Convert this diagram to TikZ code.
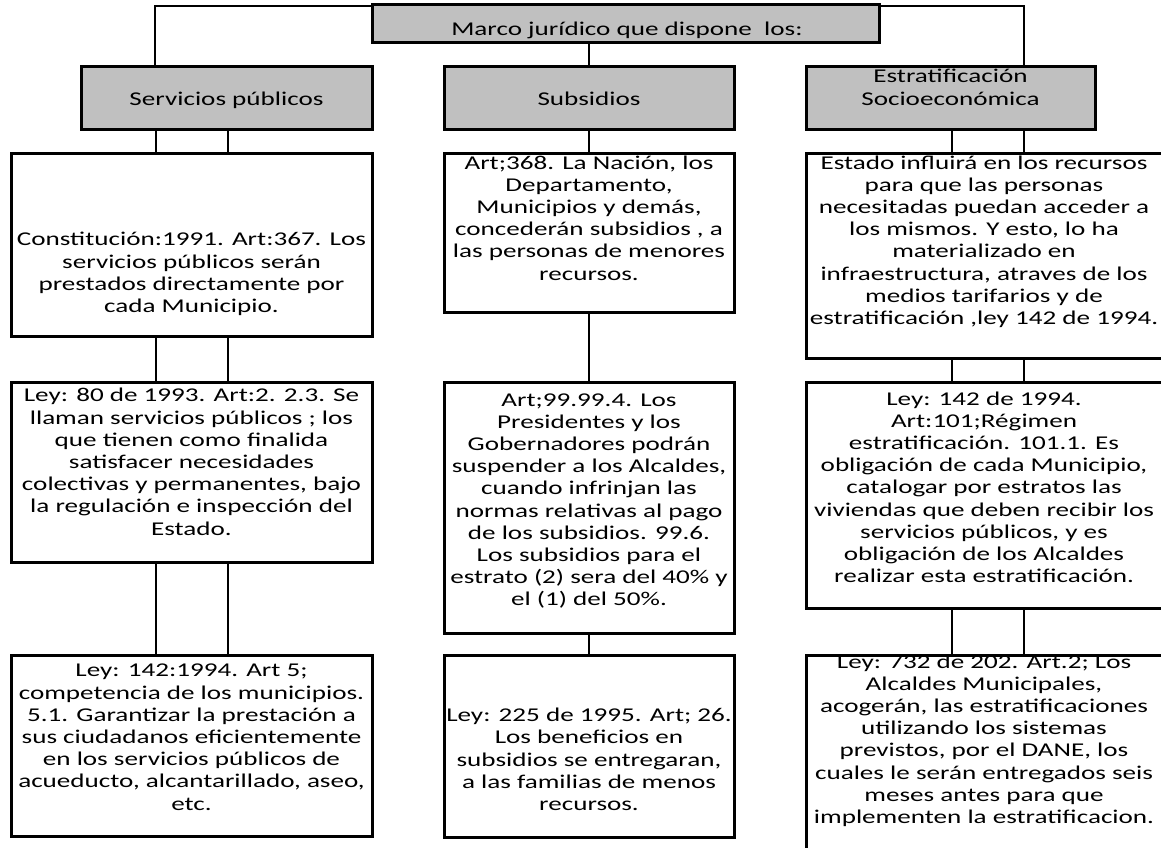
\documentclass[tikz,border=0pt]{standalone}
\usepackage{fontspec}
\newfontfamily\cuerpo{Carlito}[FakeStretch=1.39]
\definecolor{gris}{HTML}{C0C0C0}

\begin{document}
\begin{tikzpicture}[x=1pt,y=-1pt,
                caja/.style={draw,line width=3pt,inner sep=0pt},
                cabecera/.style={caja,fill=gris},
                enlace/.style={line width=2pt},
                texto/.style={font=\cuerpo\fontsize{19.5}{22.2}\selectfont,align=center,inner sep=0pt,anchor=base}]
                \useasboundingbox (0,0) rectangle (1161,847);
                \clip (0,0) rectangle (1161,847);
                % cabeceras
                \node[cabecera,minimum width=291pt,minimum height=63pt] (sp) at (226.5,97.5) {};
                \node[cabecera,minimum width=290pt,minimum height=63pt] (sb) at (589,97.5) {};
                \node[cabecera,minimum width=289pt,minimum height=63pt] (ep) at (950.5,97.5) {};
                % cajas de texto
                \node[caja,minimum width=361pt,minimum height=183pt] (l1) at (191.5,244.5) {};
                \node[caja,minimum width=361pt,minimum height=180pt] (l2) at (191.5,472) {};
                \node[caja,minimum width=361pt,minimum height=181pt] (l3) at (191.5,745.5) {};
                \node[caja,minimum width=290pt,minimum height=159pt] (m1) at (589,232.5) {};
                \node[caja,minimum width=290pt,minimum height=251pt] (m2) at (589,507.5) {};
                \node[caja,minimum width=290pt,minimum height=182pt] (m3) at (589,746) {};
                \node[caja,minimum width=364pt,minimum height=205pt] (r1) at (988,255.5) {};
                \node[caja,minimum width=364pt,minimum height=226pt] (r2) at (988,495) {};
                \node[caja,minimum width=364pt,minimum height=225pt] (r3) at (988,767.5) {};
                % marco superior
                \draw[enlace] ([xshift=-71.5pt]sp.north) |- (625.5,6) -| ([xshift=73.5pt]ep.north);
                \node[cabecera,minimum width=507pt,minimum height=38pt] (top) at (625.5,23) {};
                \draw[enlace] (top.south -| sb.north) -- (sb.north);
                % enlaces
                \foreach \d in {-36,36} {
                    \draw[enlace] ([xshift=\d pt]l1.north) -- ([xshift=\d pt]l1.north |- sp.south);
                    \draw[enlace] ([xshift=\d pt]l2.north) -- ([xshift=\d pt]l2.north |- l1.south);
                    \draw[enlace] ([xshift=\d pt]l3.north) -- ([xshift=\d pt]l3.north |- l2.south);
                    \draw[enlace] ([xshift=\d pt]r1.north) -- ([xshift=\d pt]r1.north |- ep.south);
                    \draw[enlace] ([xshift=\d pt]r2.north) -- ([xshift=\d pt]r2.north |- r1.south);
                    \draw[enlace] ([xshift=\d pt]r3.north) -- ([xshift=\d pt]r3.north |- r2.south);
                }
                \draw[enlace] (sb.south) -- (m1.north);
                \draw[enlace] (m1.south) -- (m2.north);
                \draw[enlace] (m2.south) -- (m3.north);
                % textos (base = linea final)
                \node[texto] (ttop) at (627,35) {Marco jurídico que dispone\ \ los:};
                \node[texto] (tsp) at (226.5,105) {Servicios públicos};
                \node[texto] (tsb) at (589,105) {Subsidios};
                \node[texto] (tep) at (950.5,105) {Estratificación\\Socioeconómica};
                \node[texto] (tl1) at (191.5,312.5) {Constitución:1991. Art:367. Los\\servicios públicos serán\\prestados directamente por\\cada Municipio.};
                \node[texto] (tl2) at (191.5,535) {Ley: 80 de 1993. Art:2. 2.3. Se\\llaman servicios públicos ; los\\que tienen como finalida\\satisfacer necesidades\\colectivas y permanentes, bajo\\la regulación e inspección del\\Estado.};
                \node[texto] (tl3) at (191.5,810) {Ley: 142:1994. Art 5;\\competencia de los municipios.\\5.1. Garantizar la prestación a\\sus ciudadanos eficientemente\\en los servicios públicos de\\acueducto, alcantarillado, aseo,\\etc.};
                \node[texto] (tm1) at (589,280) {Art;368. La Nación, los\\Departamento,\\Municipios y demás,\\concederán subsidios , a\\las personas de menores\\recursos.};
                \node[texto] (tm2) at (589,605.8) {Art;99.99.4. Los\\Presidentes y los\\Gobernadores podrán\\suspender a los Alcaldes,\\cuando infrinjan las\\normas relativas al pago\\de los subsidios. 99.6.\\Los subsidios para el\\estrato (2) sera del 40\% y\\el (1) del 50\%.};
                \node[texto] (tm3) at (589,810.5) {Ley: 225 de 1995. Art; 26.\\Los beneficios en\\subsidios se entregaran,\\a las familias de menos\\recursos.};
                \node[texto] (tr1) at (984,324.4) {Estado influirá en los recursos\\para que las personas\\necesitadas puedan acceder a\\los mismos. Y esto, lo ha\\materializado en\\infraestructura, atraves de los\\medios tarifarios y de\\estratificación ,ley 142 de 1994.};
                \node[texto] (tr2) at (984,582.6) {Ley: 142 de 1994.\\Art:101;Régimen\\estratificación. 101.1. Es\\obligación de cada Municipio,\\catalogar por estratos las\\viviendas que deben recibir los\\servicios públicos, y es\\obligación de los Alcaldes\\realizar esta estratificación.};
                \node[texto] (tr3) at (984,823.4) {Ley: 732 de 202. Art.2; Los\\Alcaldes Municipales,\\acogerán, las estratificaciones\\utilizando los sistemas\\previstos, por el DANE, los\\cuales le serán entregados seis\\meses antes para que\\implementen la estratificacion.};
            \end{tikzpicture}
\end{document}
